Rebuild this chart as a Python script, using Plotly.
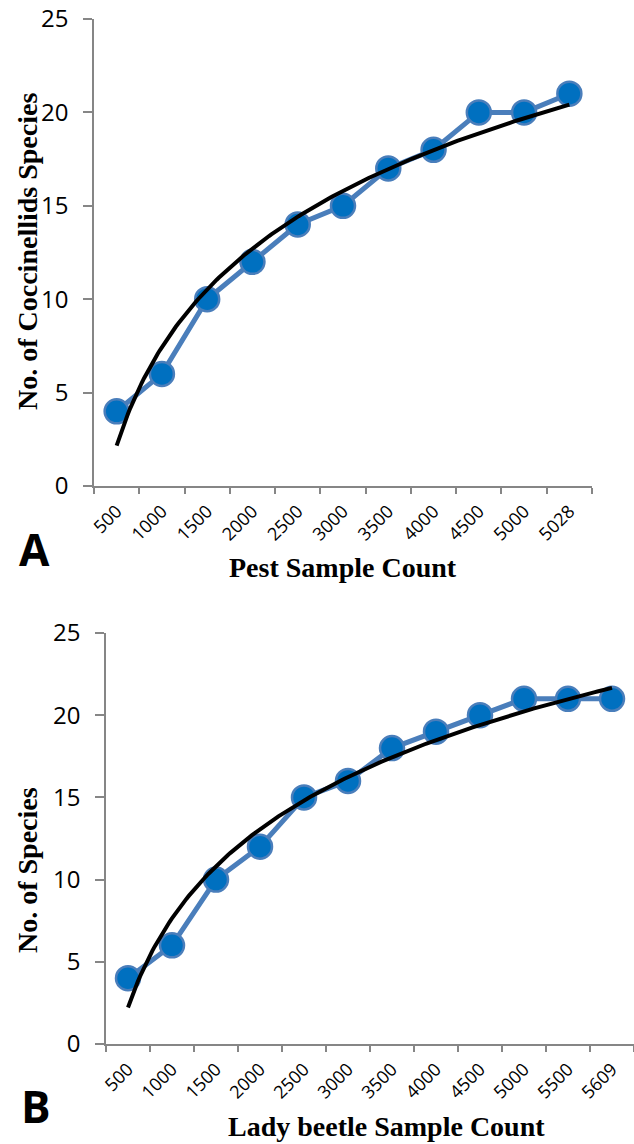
import numpy as np
import plotly.graph_objects as go

# ---- data ----
cats_a = ["500", "1000", "1500", "2000", "2500", "3000", "3500", "4000", "4500", "5000", "5028"]
species_a = [4, 6, 10, 12, 14, 15, 17, 18, 20, 20, 21]

cats_b = ["500", "1000", "1500", "2000", "2500", "3000", "3500", "4000", "4500", "5000", "5500", "5609"]
species_b = [4, 6, 10, 12, 15, 16, 18, 19, 20, 21, 21, 21]

y_ticks = [0, 5, 10, 15, 20, 25]

W, H = 634, 1144
LINE_COL = "#4A7EBB"
MARK_COL = "#0070C0"
AXIS_COL = "#868686"
TICK_FONT = "Open Sans, Calibri, sans-serif"
TITLE_FONT = "Liberation Serif, Times New Roman, serif"


def log_fit(vals):
    idx = np.arange(1, len(vals) + 1)
    a, b = np.polyfit(np.log(idx), np.asarray(vals, float), 1)
    xs = np.linspace(1, len(vals), 200)
    return xs, a * np.log(xs) + b


fig = go.Figure()

marker = dict(size=24, color=MARK_COL, line=dict(color=LINE_COL, width=2.5))

# Panel A data
fig.add_trace(go.Scatter(
    x=cats_a, y=species_a, mode="lines+markers", xaxis="x", yaxis="y",
    line=dict(color=LINE_COL, width=5), marker=marker,
    showlegend=False, cliponaxis=False))
xs, ys = log_fit(species_a)
fig.add_trace(go.Scatter(
    x=xs, y=ys, mode="lines", xaxis="x3", yaxis="y",
    line=dict(color="black", width=4), showlegend=False, cliponaxis=False))

# Panel B data
fig.add_trace(go.Scatter(
    x=cats_b, y=species_b, mode="lines+markers", xaxis="x2", yaxis="y2",
    line=dict(color=LINE_COL, width=5), marker=marker,
    showlegend=False, cliponaxis=False))
xs, ys = log_fit(species_b)
fig.add_trace(go.Scatter(
    x=xs, y=ys, mode="lines", xaxis="x4", yaxis="y2",
    line=dict(color="black", width=4), showlegend=False, cliponaxis=False))

ax_common = dict(showline=True, linecolor=AXIS_COL, linewidth=1.5, showgrid=False,
                 zeroline=False, ticks="outside", tickcolor=AXIS_COL, tickwidth=1.5,
                 automargin=False)

# panel geometry in pixels
a_left, a_right, a_top, a_bot = 94, 592, 19, 486
b_left, b_right, b_top, b_bot = 106, 634, 633, 1044

xtick_font = dict(family=TICK_FONT, size=18, color="black")
ytick_font = dict(family=TICK_FONT, size=24, color="black")

fig.update_layout(
    template="none",
    width=W, height=H, margin=dict(l=0, r=0, t=0, b=0, autoexpand=False),
    paper_bgcolor="white", plot_bgcolor="white",
    xaxis=dict(**ax_common, type="category", domain=[a_left / W, a_right / W], anchor="y",
               tickson="boundaries", ticklen=6, tickangle=-45, tickfont=xtick_font,
               ticklabelstandoff=6, range=[-0.5, len(cats_a) - 0.5]),
    yaxis=dict(**ax_common, domain=[1 - a_bot / H, 1 - a_top / H], anchor="x",
               range=[0, 25], tickvals=y_ticks, ticklen=9, ticklabelstandoff=10,
               tickfont=ytick_font),
    xaxis3=dict(overlaying="x", anchor="y", range=[0.5, len(cats_a) + 0.5],
                visible=False, automargin=False),
    xaxis2=dict(**ax_common, type="category", domain=[b_left / W, b_right / W], anchor="y2",
                tickson="boundaries", ticklen=6, tickangle=-45, tickfont=xtick_font,
                ticklabelstandoff=6, range=[-0.5, len(cats_b) - 0.5]),
    yaxis2=dict(**ax_common, domain=[1 - b_bot / H, 1 - b_top / H], anchor="x2",
                range=[0, 25], tickvals=y_ticks, ticklen=9, ticklabelstandoff=10,
                tickfont=ytick_font),
    xaxis4=dict(overlaying="x2", anchor="y2", range=[0.5, len(cats_b) + 0.5],
                visible=False, automargin=False),
)

title_font = dict(family=TITLE_FONT, size=28, color="black")
annots = [
    dict(text="<b>Pest Sample Count</b>", x=343 / W, y=1 - 567 / H, font=title_font),
    dict(text="<b>No. of Coccinellids Species</b>", x=27 / W, y=1 - 252 / H, textangle=-90, font=title_font),
    dict(text="<b>Lady beetle Sample Count</b>", x=386 / W, y=1 - 1126 / H, font=title_font),
    dict(text="<b>No. of Species</b>", x=27 / W, y=1 - 870 / H, textangle=-90, font=title_font),
    dict(text="<b>A</b>", x=34 / W, y=1 - 549 / H,
         font=dict(family="Open Sans, sans-serif", size=44, color="black")),
    dict(text="<b>B</b>", x=36 / W, y=1 - 1106 / H,
         font=dict(family="Open Sans, sans-serif", size=44, color="black")),
]
for a in annots:
    fig.add_annotation(xref="paper", yref="paper", showarrow=False,
                       xanchor="center", yanchor="middle", **a)

fig.write_html("out.html")
